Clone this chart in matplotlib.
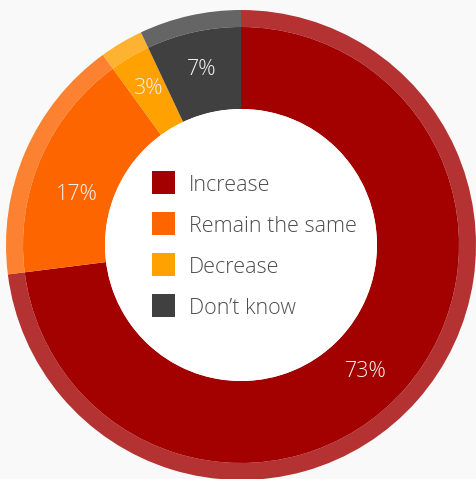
import matplotlib
matplotlib.use("Agg")
import matplotlib.pyplot as plt
import numpy as np
from matplotlib.patches import Circle, Rectangle

categories = ["Increase", "Remain the same", "Decrease", "Don\u2019t know"]
values = [73, 17, 3, 7]
labels = ["73%", "17%", "3%", "7%"]
colors = ["#a30000", "#fd6500", "#ffa100", "#404040"]

BG = "#f9f9f9"
fig = plt.figure(figsize=(4.76, 4.79), dpi=100, facecolor=BG)
ax = fig.add_axes([0, 0, 1, 1])
ax.set_facecolor(BG)

R_out, R_mid, R_in = 235, 218, 136

ax.pie(values, radius=R_out, colors=colors, startangle=90, counterclock=False,
       wedgeprops=dict(width=R_out - R_mid, linewidth=0, alpha=0.8))
ax.pie(values, radius=R_mid, colors=colors, startangle=90, counterclock=False,
       wedgeprops=dict(width=R_mid - R_in, linewidth=0))
ax.add_patch(Circle((0, 0), R_in, facecolor="white", edgecolor="none", zorder=3))

ax.set_xlim(-241, 235)
ax.set_ylim(-234, 245)
ax.set_aspect("equal")
ax.axis("off")

FS = 15.5
cap_half = 0.714 * FS * 100 / 72 / 2  # half cap height in pixels

# percent labels (style: radius and small angular nudges)
cum = 0
r_lab = [176, 172, 184, 182]
d_ang = [-3.5, 5.5, 0, 0]
for v, lab, rl, da in zip(values, labels, r_lab, d_ang):
    mid = 90 - (cum + v / 2) / sum(values) * 360 + da
    cum += v
    a = np.deg2rad(mid)
    ax.text(rl * np.cos(a), rl * np.sin(a) - cap_half, lab, ha="center", va="baseline",
            color="#f2f2f2", fontsize=FS, family="Open Sans", fontweight="light", zorder=4)

# legend
x0 = 152 - 241
for i, (cat, col) in enumerate(zip(categories, colors)):
    yc = 245 - (182 + i * 41)
    ax.add_patch(Rectangle((x0, yc - 11.5), 23, 23, facecolor=col, edgecolor="none", zorder=5))
    ax.text(189 - 241, yc - cap_half - 1, cat, ha="left", va="baseline", color="#4d4d4d",
            fontsize=FS, family="Open Sans", fontweight="light", zorder=5)

fig.savefig("out.png", dpi=100, facecolor=BG)
